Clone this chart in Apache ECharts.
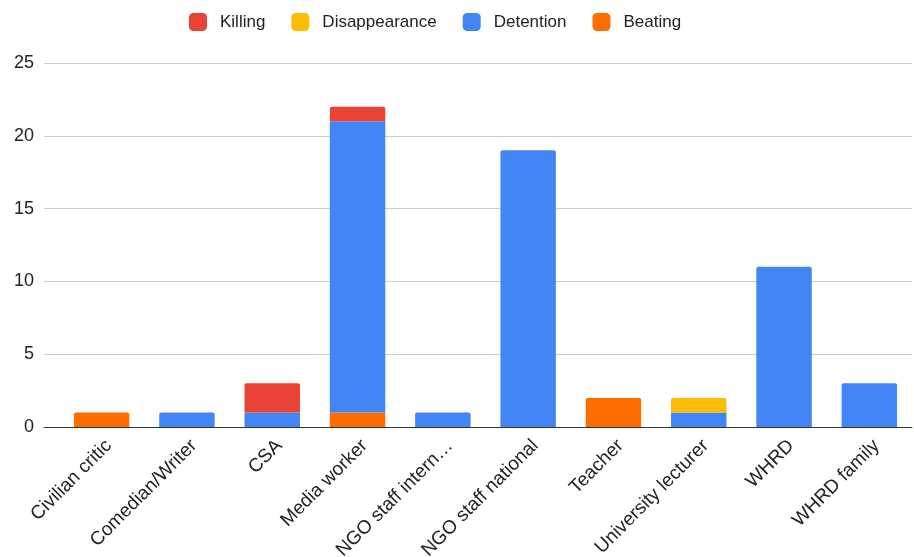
<!DOCTYPE html>
<html><head><meta charset="utf-8">
<script src="https://cdn.jsdelivr.net/npm/echarts@6/dist/echarts.min.js"></script>
<style>html,body{margin:0;padding:0;background:#fff}#c{width:914px;height:557px}</style>
</head><body><div id="c"></div>
<script>
const categories = ["Civilian critic","Comedian/Writer","CSA","Media worker","NGO staff international","NGO staff national","Teacher","University lecturer","WHRD","WHRD family"];
const beating      = [1,0,0,1,0,0,2,0,0,0];
const detention    = [0,1,1,20,1,19,0,1,11,3];
const disappearance= [0,0,0,0,0,0,0,1,0,0];
const killing      = [0,0,2,1,0,0,0,0,0,0];
const yTicks = [0,5,10,15,20,25];

const chart = echarts.init(document.getElementById('c'));
const font = 'Arial, "Liberation Sans", sans-serif';
const stackOrder = [beating, detention, disappearance, killing];
function isTop(arr, i){
  const k = stackOrder.indexOf(arr);
  for (let j = k+1; j < stackOrder.length; j++) if (stackOrder[j][i]) return false;
  return true;
}
function mk(name, data, color){
  return {name, type:'bar', stack:'s', xAxisIndex:1, yAxisIndex:1,
    data:data.map((v,i)=> v===0 ? null : (isTop(data,i) ? {value:v, itemStyle:{borderRadius:[2,2,0,0]}} : v)),
    barWidth:'65%', itemStyle:{color}, emphasis:{disabled:true}};
}
const series = [
  mk('Beating', beating, '#FF6D01'),
  mk('Detention', detention, '#4285F4'),
  mk('Disappearance', disappearance, '#FBBC04'),
  mk('Killing', killing, '#EA4335')
];
const yMin = yTicks[0], yMax = yTicks[yTicks.length-1], yStep = yTicks[1]-yTicks[0];
chart.setOption({
  animation:false,
  legend:{data:['Killing','Disappearance','Detention','Beating'], top:8, left:184,
    itemWidth:18, itemHeight:18, itemGap:26, icon:'roundRect',
    textStyle:{fontFamily:font, fontSize:17, color:'#222', padding:[0,0,0,8]}},
  grid:[
    {left:44, right:2, top:63, bottom:130, containLabel:false, outerBoundsMode:'none'},
    {left:59, right:2, top:63, bottom:130, containLabel:false, outerBoundsMode:'none'}
  ],
  xAxis:[
    {type:'value', gridIndex:0, min:0, max:1, show:true,
      axisLine:{show:true, onZero:false, lineStyle:{color:'#333', width:1}},
      axisTick:{show:false}, axisLabel:{show:false}, splitLine:{show:false}},
    {type:'category', gridIndex:1, data:categories,
      axisLine:{show:false}, axisTick:{show:false},
      axisLabel:{rotate:45, interval:0, fontFamily:font, fontSize:19, color:'#222', margin:23,
        padding:[0,-10,0,0], width:160, overflow:'truncate', ellipsis:'…'}}
  ],
  yAxis:[
    {type:'value', gridIndex:0, min:yMin, max:yMax, interval:yStep,
      axisLabel:{fontFamily:font, fontSize:18, color:'#222', margin:10},
      splitLine:{lineStyle:{color:'#ccc'}}, axisLine:{show:false}, axisTick:{show:false}},
    {type:'value', gridIndex:1, min:yMin, max:yMax, interval:yStep, show:false,
      splitLine:{show:false}}
  ],
  series
});
</script></body></html>
